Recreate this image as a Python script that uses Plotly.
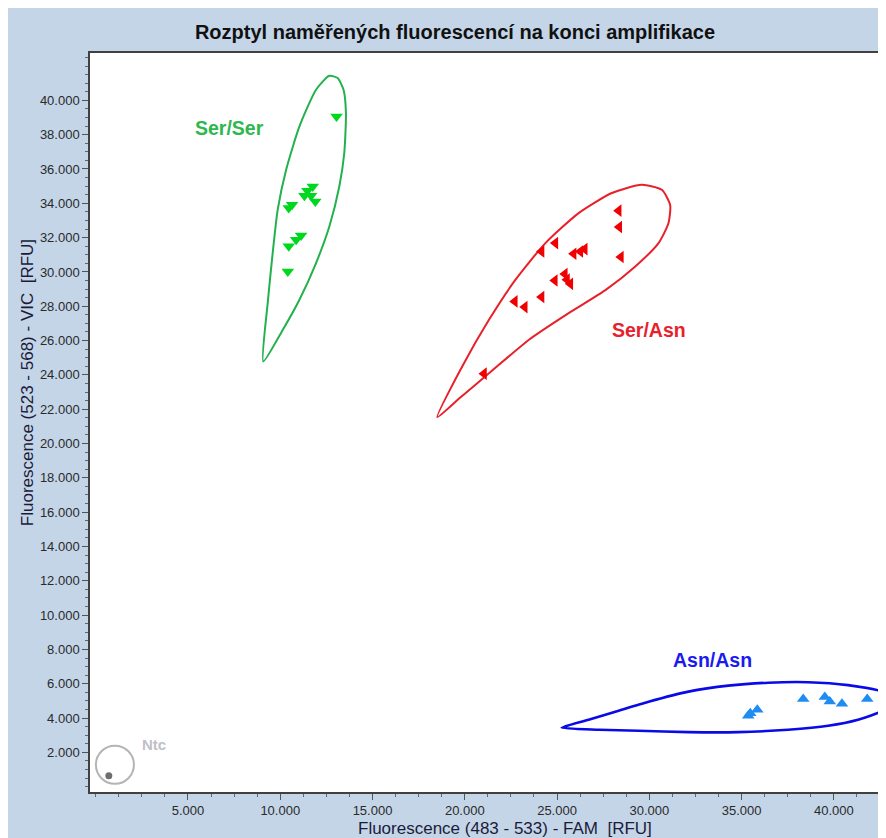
import plotly.graph_objects as go

# ---------------- data (RFU, thousands) ----------------
ser_ser_x = [13.05, 11.76, 11.47, 11.31, 11.67, 11.90, 10.64, 10.46, 11.13, 10.86, 10.46, 10.41]
ser_ser_y = [39.06, 34.98, 34.73, 34.44, 34.44, 34.11, 33.92, 33.72, 32.13, 31.88, 31.49, 30.03]

ser_asn_x = [28.34, 28.37, 28.46, 24.91, 24.16, 26.50, 26.26, 25.90, 25.42, 24.88, 25.54, 25.72, 24.16, 22.71, 23.25, 21.04]
ser_asn_y = [33.57, 32.62, 30.87, 31.68, 31.19, 31.33, 31.19, 31.06, 29.88, 29.50, 29.55, 29.31, 28.54, 28.28, 27.95, 24.07]

asn_asn_x = [38.34, 39.51, 39.78, 40.44, 41.81, 35.85, 35.36, 35.47]
asn_asn_y = [5.11, 5.23, 4.97, 4.84, 5.11, 4.49, 4.14, 4.28]

ntc_x = [0.71]
ntc_y = [0.64]

# cluster boundaries
ser_ser_bx = [9.08, 9.32, 9.59, 9.86, 10.32, 11.04, 11.94, 12.66, 13.11, 13.43, 13.56, 13.47, 13.20, 12.66, 11.94, 11.04, 10.14, 9.08]
ser_ser_by = [24.78, 28.19, 31.10, 33.62, 35.96, 38.48, 40.62, 41.43, 41.30, 40.62, 39.26, 36.93, 34.98, 32.65, 30.52, 28.38, 26.63, 24.78]

ser_asn_bx = [18.51, 19.86, 21.31, 22.75, 24.37, 26.17, 27.97, 29.59, 30.68, 31.13, 31.04, 30.50, 29.24, 27.62, 25.63, 23.48, 21.31, 19.79, 18.51]
ser_asn_by = [21.54, 24.49, 27.21, 29.55, 31.68, 33.43, 34.60, 35.08, 34.79, 33.90, 32.85, 31.68, 30.32, 28.94, 27.60, 26.05, 24.09, 22.71, 21.54]

asn_asn_bx = [25.25, 26.71, 28.34, 29.96, 32.12, 34.28, 36.44, 38.60, 40.77, 42.60, 43.20, 42.60, 41.31, 39.69, 37.52, 34.82, 32.12, 29.42, 27.26, 25.25]
asn_asn_by = [3.44, 3.90, 4.43, 4.95, 5.54, 5.89, 6.06, 6.09, 5.92, 5.54, 4.95, 4.40, 3.90, 3.55, 3.32, 3.18, 3.18, 3.26, 3.32, 3.44]

ntc_ring_x = [0.01, 2.07]
ntc_ring_y = [0.17, 2.39]

labels = ["Ser/Ser", "Ser/Asn", "Asn/Asn", "Ntc"]
label_x = [7.25, 30.0, 33.4, 3.15]
label_y = [38.40, 26.63, 7.40, 2.45]

x_tick_vals = [5000, 10000, 15000, 20000, 25000, 30000, 35000, 40000]
y_tick_vals = list(range(2000, 40001, 2000))

title_text = "Rozptyl naměřených fluorescencí na konci amplifikace"
x_title = "Fluorescence (483 - 533) - FAM  [RFU]"
y_title = "Fluorescence (523 - 568) - VIC  [RFU]"

# ---------------- styling ----------------
K = 1000.0
def sc(v):
    return [a * K for a in v]

FONT = "Liberation Sans, Arial, sans-serif"
BG = "#C4D5E8"

fig = go.Figure()

# boundaries
for bx, by, col, w in [
    (ser_ser_bx, ser_ser_by, "#22B14C", 2),
    (ser_asn_bx, ser_asn_by, "#E8202A", 2),
    (asn_asn_bx, asn_asn_by, "#0A0AE8", 2.6),
]:
    fig.add_trace(go.Scatter(x=sc(bx), y=sc(by), mode="lines",
                             line=dict(color=col, width=w, shape="spline", smoothing=0.6),
                             hoverinfo="skip", showlegend=False))

# points
fig.add_trace(go.Scatter(x=sc(ser_ser_x), y=sc(ser_ser_y), mode="markers",
                         marker=dict(symbol="triangle-down", size=11, color="#00D820"),
                         showlegend=False, name="Ser/Ser"))
fig.add_trace(go.Scatter(x=sc(ser_asn_x), y=sc(ser_asn_y), mode="markers",
                         marker=dict(symbol="triangle-left", size=11, color="#F00000"),
                         showlegend=False, name="Ser/Asn"))
fig.add_trace(go.Scatter(x=sc(asn_asn_x), y=sc(asn_asn_y), mode="markers",
                         marker=dict(symbol="triangle-up", size=11, color="#1E8CF0"),
                         showlegend=False, name="Asn/Asn"))
fig.add_trace(go.Scatter(x=sc(ntc_x), y=sc(ntc_y), mode="markers",
                         marker=dict(symbol="circle", size=7, color="#6E6E6E"),
                         showlegend=False, name="Ntc"))

# Ntc ring
fig.add_shape(type="circle", xref="x", yref="y",
              x0=ntc_ring_x[0] * K, x1=ntc_ring_x[1] * K,
              y0=ntc_ring_y[0] * K, y1=ntc_ring_y[1] * K,
              line=dict(color="#B4B4B4", width=2))

# cluster labels
label_colors = ["#2DB84D", "#E8202A", "#1A1AF0", "#C0C0C8"]
label_sizes = [19.5, 19.5, 19.5, 15]
for t, lx, ly, c, s in zip(labels, label_x, label_y, label_colors, label_sizes):
    fig.add_annotation(x=lx * K, y=ly * K, xref="x", yref="y", text="<b>%s</b>" % t,
                       showarrow=False, font=dict(family=FONT, size=s, color=c))

# axis titles
fig.add_annotation(x=(506 - 90) / 794, y=-36 / 739, xref="paper", yref="paper", text=x_title,
                   showarrow=False, font=dict(family=FONT, size=17, color="#1B1B3A"),
                   xanchor="center", yanchor="middle")
fig.add_annotation(x=(27 - 90) / 794, y=(792 - 383) / 739, xref="paper", yref="paper", text=y_title,
                   showarrow=False, textangle=-90, font=dict(family=FONT, size=17, color="#1B1B3A"),
                   xanchor="center", yanchor="middle")

axis_common = dict(
    showgrid=False, zeroline=False, showline=True, mirror=True,
    linecolor="#404040", linewidth=1.5,
    ticks="outside", ticklen=6, tickwidth=1, tickcolor="#555555",
    tickfont=dict(family=FONT, size=13, color="#2A2A2A"),
    tickformat=",d",
)

fig.update_xaxes(range=[-310, 42610], tickmode="array", tickvals=x_tick_vals,
                 minor=dict(ticks="outside", ticklen=3, tickcolor="#666666", tickmode="linear",
                            tick0=0, dtick=1250, showgrid=False),
                 **axis_common)
fig.update_yaxes(range=[-310, 42760], tickmode="array", tickvals=y_tick_vals,
                 minor=dict(ticks="outside", ticklen=3, tickcolor="#666666", tickmode="linear",
                            tick0=0, dtick=500, showgrid=False),
                 **axis_common)

fig.update_layout(
    width=886, height=838,
    margin=dict(l=82, r=10, t=45, b=54),
    paper_bgcolor=BG, plot_bgcolor="white",
    separators=",.",
    title=dict(text="<b>%s</b>" % title_text, x=447 / 886, xanchor="center",
               y=1 - 24 / 838, yanchor="middle", xref="container", yref="container",
               font=dict(family=FONT, size=20, color="#111111")),
    showlegend=False,
)

fig.write_html("out.html")
